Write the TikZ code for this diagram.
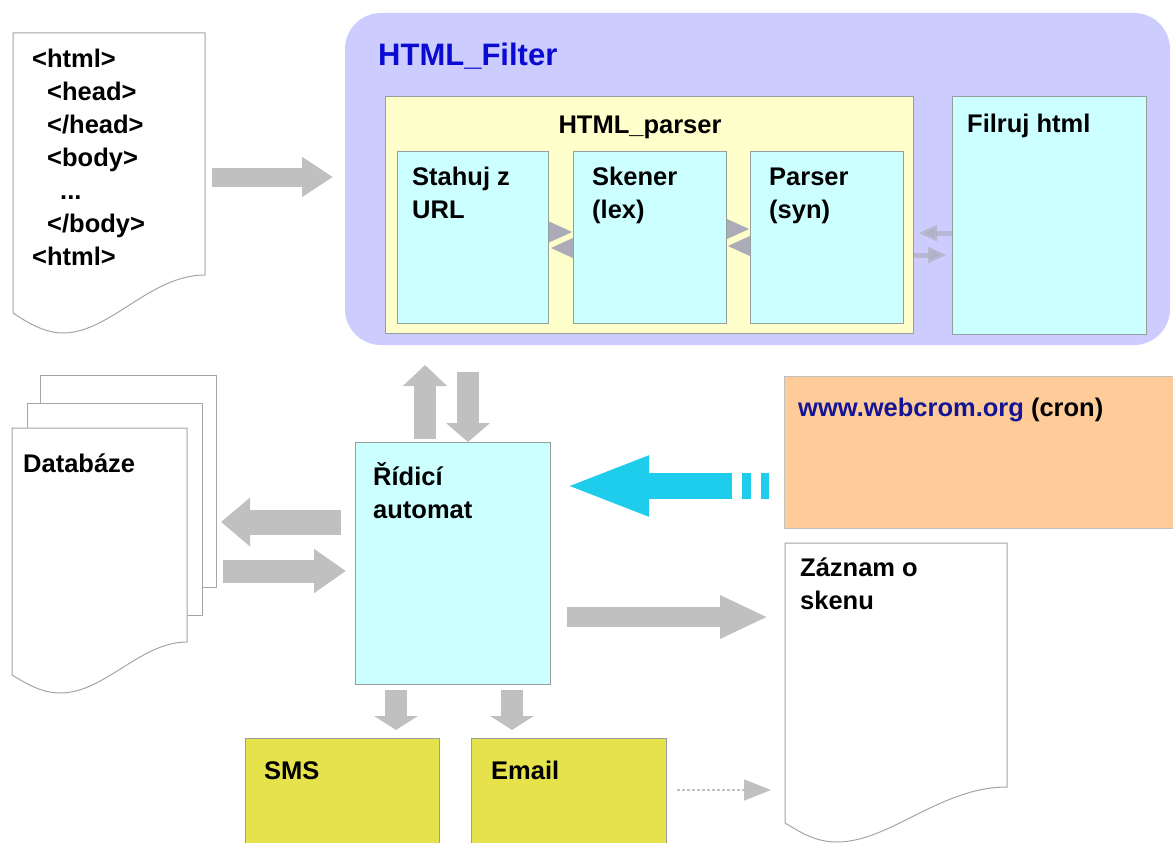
\documentclass[tikz,border=0pt]{standalone}
\usepackage{fontspec}
\setmainfont{Liberation Sans}
\usetikzlibrary{arrows.meta}
\definecolor{purplebg}{RGB}{204,204,255}
\definecolor{yellowbox}{RGB}{255,255,204}
\definecolor{cyanbox}{RGB}{204,255,255}
\definecolor{orangebox}{RGB}{255,204,153}
\definecolor{smsbox}{RGB}{230,226,76}
\definecolor{arrgray}{RGB}{192,192,192}
\definecolor{smallgray}{RGB}{172,172,184}
\definecolor{bordergray}{RGB}{150,158,158}
\definecolor{docgray}{RGB}{165,165,165}
\definecolor{titleblue}{RGB}{10,10,210}
\definecolor{linkblue}{RGB}{20,20,150}
\definecolor{arrcyan}{RGB}{30,204,236}
\pgfdeclarelayer{lzero}
\pgfdeclarelayer{lone}
\pgfdeclarelayer{ltwo}
\pgfdeclarelayer{lthree}
\pgfsetlayers{lzero,lone,ltwo,lthree,main}
\newcommand{\firstline}{\rule{0pt}{24pt}}
\tikzset{
  box/.style={draw=bordergray, line width=1pt, anchor=north west, inner sep=0pt, outer sep=0pt},
  area/.style={anchor=north west, inner sep=0pt, outer sep=0pt},
  docline/.style={draw=docgray, line width=1pt, fill=white},
  lbl/.style={anchor=north west, inner sep=0pt, font=\fontsize{25.5}{33}\selectfont\bfseries, align=left},
  fat/.style n args={3}{draw=arrgray, line width=#1pt, -{Triangle[length=#2pt,width=#3pt]}},
  smallarr/.style={draw=smallgray, line width=6pt, -{Triangle[length=24pt,width=19pt]}},
  fadearr/.style={draw=smallgray, draw opacity=0.6, fill opacity=0.6, line width=5pt, -{Triangle[length=19pt,width=15pt]}},
  cyanarr/.style={draw=arrcyan, line width=26pt, dash pattern=on 8pt off 10pt on 9pt off 10pt on 600pt, -{Triangle[length=85pt,width=54pt]}},
  dasharr/.style={draw=arrgray, line width=1.3pt, dash pattern=on 3pt off 2pt, -{Triangle[length=27pt,width=21pt]}},
}
\begin{document}
\begin{tikzpicture}[x=1pt,y=-1pt]
\useasboundingbox (0,0) rectangle (1173,843);

% ---------- HTML_Filter group ----------
\begin{pgfonlayer}{lzero}
\fill[white] (0,0) rectangle (1173,843);
\node[area, fill=purplebg, rounded corners=36pt, minimum width=825pt, minimum height=332pt] (filter) at (345,13) {};
\end{pgfonlayer}
\node[anchor=base west, inner sep=0pt, text=titleblue, font=\fontsize{31}{37}\selectfont\bfseries] (filtertitle) at (378,66) {HTML\_Filter};
\begin{pgfonlayer}{ltwo}
\node[box, fill=yellowbox, minimum width=528pt, minimum height=237pt] (hparser) at (385,96) {};
\end{pgfonlayer}
\node[anchor=base, inner sep=0pt, font=\fontsize{25.5}{33}\selectfont\bfseries] (hparsertitle) at (640,133) {HTML\_parser};
\node[box, fill=cyanbox, minimum width=151pt, minimum height=172pt] (stahuj) at (397,151) {};
\node[box, fill=cyanbox, minimum width=153pt, minimum height=172pt] (skener) at (573,151) {};
\node[box, fill=cyanbox, minimum width=153pt, minimum height=172pt] (parser) at (750,151) {};
\node[box, fill=cyanbox, minimum width=194pt, minimum height=238pt] (filruj) at (952,96) {};
\node[lbl] (stahujtext) at (412,161) {\firstline Stahuj z\\URL};
\node[lbl] (skenertext) at (592,161) {\firstline Skener\\(lex)};
\node[lbl] (parsertext) at (769,161) {\firstline Parser\\(syn)};
\node[lbl] (filrujtext) at (967,108) {\firstline Filruj html};

\begin{pgfonlayer}{lthree}
\draw[smallarr] (stahuj.center |- 0,232) -- (skener.west |- 0,232);
\draw[smallarr] (skener.center |- 0,248) -- ([xshift=2pt]stahuj.east |- 0,248);
\draw[smallarr] (skener.center |- 0,229) -- (parser.west |- 0,229);
\draw[smallarr] (parser.center |- 0,246) -- ([xshift=1pt]skener.east |- 0,246);
\end{pgfonlayer}
\begin{pgfonlayer}{lone}
\draw[fadearr] (filruj.center |- 0,233) -- ([xshift=5pt]hparser.east |- 0,233);
\draw[fadearr] (parser.center |- 0,255) -- ([xshift=-5pt]filruj.west |- 0,255);
\end{pgfonlayer}

% ---------- HTML document ----------
\node[area, minimum width=192pt, minimum height=242pt] (htmldoc) at (13,33) {};
\draw[docline] (13,313) -- (13,33) -- (205,33) -- (205,275) .. controls (150,275) and (110,333) .. (63,333) .. controls (45,333) and (28,323) .. cycle;
\node[lbl] (htmltext) at (32,43) {\firstline <html>\\\hspace*{15pt}<head>\\\hspace*{15pt}</head>\\\hspace*{15pt}<body>\\\hspace*{28pt}...\\\hspace*{15pt}</body>\\<html>};
\draw[fat={19}{31}{38}] ([xshift=7pt]htmldoc.east |- 0,177) -- ([xshift=-12pt]filter.west |- 0,177);

% ---------- Database ----------
\node[box, draw=docgray, fill=white, minimum width=176pt, minimum height=212pt] (dbback) at (40,375) {};
\node[box, draw=docgray, fill=white, minimum width=175pt, minimum height=212pt] (dbmiddle) at (27,403) {};
\node[area, minimum width=175pt, minimum height=214pt] (dbfront) at (12,428) {};
\draw[docline] (12,675) -- (12,428) -- (187,428) -- (187,642) .. controls (140,642) and (105,693) .. (60,693) .. controls (42,693) and (27,684) .. cycle;
\node[lbl] (dbtext) at (23,448) {\firstline Databáze};

% ---------- Control automaton ----------
\node[box, fill=cyanbox, minimum width=195pt, minimum height=242pt] (automat) at (355,442) {};
\node[lbl] (automattext) at (373,461) {\firstline Řídicí\\automat};

\draw[fat={22}{21}{43}] ([yshift=3pt]automat.north -| 425,0) -- ([yshift=-20pt]filter.south -| 425,0);
\draw[fat={22}{19}{43}] ([yshift=-27pt]filter.south -| 468,0) -- (automat.north -| 468,0);

\draw[fat={25}{29}{47}] ([xshift=-14pt]automat.west |- 0,522) -- ([xshift=5pt]dbback.east |- 0,522);
\draw[fat={23}{32}{42}] ([xshift=7pt]dbback.east |- 0,571) -- ([xshift=-9pt]automat.west |- 0,571);

% ---------- webcrom ----------
\node[box, draw=docgray!70, fill=orangebox, minimum width=389pt, minimum height=152pt] (webcrom) at (784,376) {};
\node[anchor=base west, inner sep=0pt, font=\fontsize{25.5}{33}\selectfont\bfseries] (webcromtext) at (798,416) {\textcolor{linkblue}{www.webcrom.org} (cron)};
\draw[cyanarr] ([xshift=-15pt]webcrom.west |- 0,486) -- ([xshift=14pt]automat.east |- 0,486);

% ---------- scan record ----------
\node[area, minimum width=222pt, minimum height=244pt] (zaznam) at (785,543) {};
\draw[docline] (785,823) -- (785,543) -- (1007,543) -- (1007,787) .. controls (940,787) and (890,842) .. (837,842) .. controls (815,842) and (800,832) .. cycle;
\node[lbl] (zaznamtext) at (800,552) {\firstline Záznam o\\skenu};
\draw[fat={20}{48}{40}] ([xshift=17pt]automat.east |- 0,617) -- ([xshift=-17pt]zaznam.west |- 0,617);

% ---------- SMS / Email ----------
\node[box, fill=smsbox, minimum width=194pt, minimum height=110pt] (sms) at (245,738) {};
\node[box, fill=smsbox, minimum width=195pt, minimum height=110pt] (email) at (471,738) {};
\node[lbl] (smstext) at (264,755) {\firstline SMS};
\node[lbl] (emailtext) at (491,755) {\firstline Email};
\draw[fat={22}{14}{43}] ([yshift=-6pt]automat.south -| 396,0) -- ([yshift=8pt]sms.north -| 396,0);
\draw[fat={22}{14}{43}] ([yshift=-6pt]automat.south -| 512,0) -- ([yshift=8pt]email.north -| 512,0);
\draw[dasharr] ([xshift=11pt]email.east |- 0,790) -- ([xshift=-14pt]zaznam.west |- 0,790);
\end{tikzpicture}
\end{document}
